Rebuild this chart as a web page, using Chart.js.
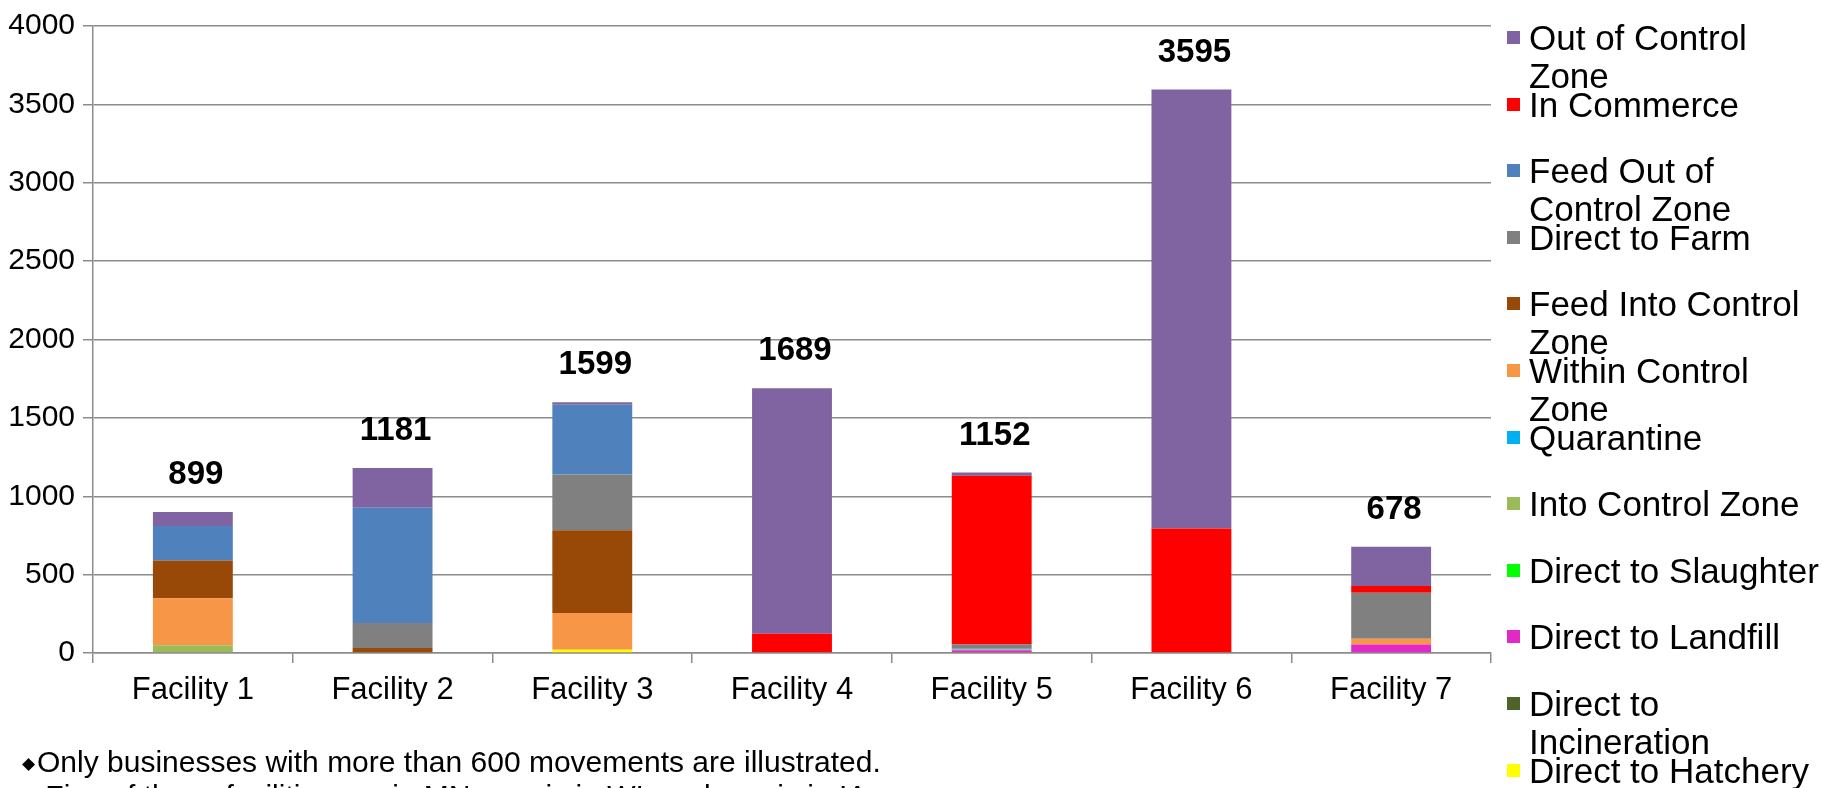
<!DOCTYPE html>
<html>
<head>
<meta charset="utf-8">
<script src="https://cdn.jsdelivr.net/npm/chart.js@4.4.0/dist/chart.umd.min.js"></script>
<style>
  html, body { margin: 0; padding: 0; width: 1822px; height: 788px; overflow: hidden; background: #fff; font-family: "Liberation Sans", Arial, sans-serif; }
  #wrap { position: absolute; left: 0; top: 0; width: 1822px; height: 788px; }
  #legend { position: absolute; left: 1507px; top: 0; }
  .lg-item { position: absolute; left: 0; width: 293px; font-size: 35px; line-height: 38px; color: #000; padding-left: 22px; white-space: normal; }
  .lg-box { position: absolute; left: 0; top: 12px; width: 13px; height: 13px; }
  #notes { position: absolute; left: 22px; top: 746px; font-size: 30px; line-height: 32px; color: #000; white-space: nowrap; }
  .dia { font-size: 17px; vertical-align: 3px; margin-right: 2px; }
</style>
</head>
<body>
<div id="wrap"><canvas id="chart"></canvas></div>
<div id="legend"></div>
<div id="notes">
  <div><span class="dia">&#9670;</span>Only businesses with more than 600 movements are illustrated.</div>
  <div><span class="dia">&#9670;</span> Five of these facilities are in MN, one is in WI, and one is in IA</div>
</div>
<script>
// categories
const facilities = ["Facility 1", "Facility 2", "Facility 3", "Facility 4", "Facility 5", "Facility 6", "Facility 7"];

// series, bottom of the stack first
const directHatchery     = [0, 0, 20, 0, 0, 0, 0];
const directIncineration = [0, 0, 0, 0, 0, 0, 0];
const directLandfill     = [0, 0, 0, 0, 17, 0, 55];
const directSlaughter    = [0, 0, 0, 0, 0, 0, 0];
const intoControlZone    = [50, 0, 0, 0, 6, 0, 0];
const quarantine         = [0, 0, 0, 0, 4, 0, 0];
const withinControlZone  = [300, 0, 235, 0, 0, 0, 36];
const feedIntoControl    = [240, 32, 528, 0, 0, 0, 0];
const directFarm         = [0, 160, 355, 0, 28, 0, 293];
const feedOutOfControl   = [220, 735, 446, 0, 0, 0, 0];
const inCommerce         = [0, 0, 0, 123, 1075, 794, 43];
const outOfControlZone   = [89, 254, 15, 1566, 22, 2801, 251];

const yTicks = [0, 500, 1000, 1500, 2000, 2500, 3000, 3500, 4000];

const series = [
  { label: "Direct to Hatchery", data: directHatchery, color: "#FFFF00" },
  { label: "Direct to Incineration", data: directIncineration, color: "#4F6228" },
  { label: "Direct to Landfill", data: directLandfill, color: "#E328C8" },
  { label: "Direct to Slaughter", data: directSlaughter, color: "#00FF00" },
  { label: "Into Control Zone", data: intoControlZone, color: "#9BBB59" },
  { label: "Quarantine", data: quarantine, color: "#00B0F0" },
  { label: "Within Control Zone", data: withinControlZone, color: "#F79646" },
  { label: "Feed Into Control Zone", data: feedIntoControl, color: "#984807" },
  { label: "Direct to Farm", data: directFarm, color: "#808080" },
  { label: "Feed Out of Control Zone", data: feedOutOfControl, color: "#4F81BD" },
  { label: "In Commerce", data: inCommerce, color: "#FF0000" },
  { label: "Out of Control Zone", data: outOfControlZone, color: "#8064A2" }
];

const totals = facilities.map((f, i) => series.reduce((s, d) => s + d.data[i], 0));

const font = '"Liberation Sans", Arial, sans-serif';
const gridGray = "#8c8c8c";

// totals above each bar
const totalsPlugin = {
  id: "totals",
  afterDatasetsDraw(chart) {
    const ctx = chart.ctx;
    const meta = chart.getDatasetMeta(chart.data.datasets.length - 1);
    const y = chart.scales.y;
    ctx.save();
    ctx.font = "bold 33px " + font;
    ctx.textAlign = "center";
    ctx.textBaseline = "middle";
    ctx.fillStyle = "#000";
    totals.forEach((t, i) => {
      ctx.fillText(String(t), meta.data[i].x + 3, y.getPixelForValue(t) - 37);
    });
    ctx.restore();
  }
};

new Chart(document.getElementById("chart"), {
  type: "bar",
  data: {
    labels: facilities,
    datasets: series.map(s => ({
      label: s.label,
      data: s.data,
      backgroundColor: s.color,
      borderWidth: 0,
      barPercentage: 0.4,
      categoryPercentage: 1.0
    }))
  },
  options: {
    responsive: true,
    maintainAspectRatio: false,
    animation: false,
    layout: { padding: { left: 0, top: 23, right: 331, bottom: 75 } },
    plugins: { legend: { display: false }, tooltip: { enabled: false } },
    scales: {
      x: {
        stacked: true,
        offset: true,
        grid: { offset: true, drawOnChartArea: false, drawTicks: true, tickLength: 10, color: gridGray, lineWidth: 1.5 },
        border: { display: true, color: gridGray, width: 1.5 },
        ticks: { color: "#000", font: { size: 31, family: font }, padding: 9, maxRotation: 0 },
        afterFit(scale) { scale.height = 60; }
      },
      y: {
        stacked: true,
        min: 0,
        max: 4000,
        afterBuildTicks(scale) { scale.ticks = yTicks.map(v => ({ value: v })); },
        grid: { color: gridGray, lineWidth: 1.5, drawTicks: true, tickLength: 10 },
        border: { display: true, color: gridGray, width: 1.5 },
        ticks: { color: "#000", font: { size: 30, family: font }, padding: 8, callback: v => String(v) },
        afterFit(scale) { scale.width = 93; }
      }
    }
  },
  plugins: [totalsPlugin]
});

// legend, top entry = top of stack
const legend = document.getElementById("legend");
series.slice().reverse().forEach((s, i) => {
  const item = document.createElement("div");
  item.className = "lg-item";
  item.style.top = (19 + i * 66.6) + "px";
  const box = document.createElement("span");
  box.className = "lg-box";
  box.style.background = s.color;
  item.appendChild(box);
  item.appendChild(document.createTextNode(s.label));
  legend.appendChild(item);
});
</script>
</body>
</html>
